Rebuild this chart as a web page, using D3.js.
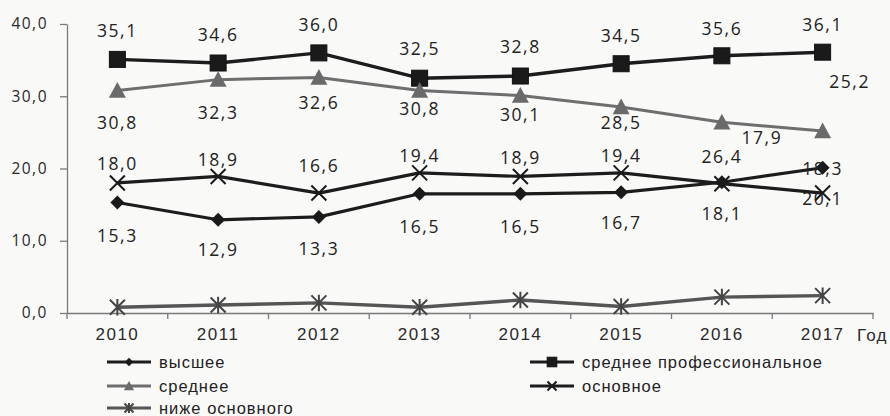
<!DOCTYPE html>
<html><head><meta charset="utf-8">
<script src="https://cdn.jsdelivr.net/npm/d3@7"></script>
<style>
html,body{margin:0;padding:0;background:#f9f9f8;}
svg{display:block;}
</style></head>
<body>
<svg id="chart" width="890" height="416"></svg>
<script>
// ---- data ----
const years = ["2010","2011","2012","2013","2014","2015","2016","2017"];
const yTicks = [0,10,20,30,40];
const axisTitle = "Год";

const vyssheeValues = [15.3,12.9,13.3,16.5,16.5,16.7,18.1,20.1];
const vyssheeLabels = ["15,3","12,9","13,3","16,5","16,5","16,7","18,1","18,3"];

const srProfValues = [35.1,34.6,36.0,32.5,32.8,34.5,35.6,36.1];
const srProfLabels = ["35,1","34,6","36,0","32,5","32,8","34,5","35,6","36,1"];

const sredneeValues = [30.8,32.3,32.6,30.8,30.1,28.5,26.4,25.2];
const sredneeLabels = ["30,8","32,3","32,6","30,8","30,1","28,5","17,9","25,2"];

const osnovnoeValues = [18.0,18.9,16.6,19.4,18.9,19.4,17.9,16.6];
const osnovnoeLabels = ["18,0","18,9","16,6","19,4","18,9","19,4","26,4","20,1"];

const nizheValues = [0.8,1.1,1.4,0.8,1.8,0.9,2.2,2.4];

// label placement offsets (layout only)
const vyssheeOff = [[0,33],[0,29],[0,31],[0,32],[0,32],[0,30],[0,31],[0,0]];
const srProfOff  = [[0,-29],[0,-29],[0,-29],[0,-30],[0,-30],[0,-29],[0,-28],[0,-28]];
const sredneeOff = [[0,32],[0,32],[0,25],[0,18],[0,18],[0,15],[40,15],[27,-50]];
const osnovnoeOff= [[0,-20],[0,-17],[0,-28],[0,-18],[0,-19],[0,-18],[0,-28],[0,5]];

const series = [
  {name:"высшее", values:vyssheeValues, labels:vyssheeLabels, off:vyssheeOff, color:"#1c1c1c", marker:"diamond", width:3.2},
  {name:"среднее профессиональное", values:srProfValues, labels:srProfLabels, off:srProfOff, color:"#1c1c1c", marker:"square", width:3.4},
  {name:"среднее", values:sredneeValues, labels:sredneeLabels, off:sredneeOff, color:"#6e6e6e", marker:"triangle", width:3},
  {name:"основное", values:osnovnoeValues, labels:osnovnoeLabels, off:osnovnoeOff, color:"#1c1c1c", marker:"times", width:3.2},
  {name:"ниже основного", values:nizheValues, labels:null, off:null, color:"#555555", marker:"asterisk", width:3.4}
];

// ---- layout ----
const svg = d3.select("#chart");
const mLeft = 67, mRight = 873, mTop = 24, mBottom = 313;
const x = d3.scaleBand().domain(years).range([mLeft,mRight]).padding(0);
const y = d3.scaleLinear().domain([0,40]).range([mBottom,mTop]);
const cx = d => x(d) + x.bandwidth()/2;
const fmt = v => d3.format(".1f")(v).replace(".",",");

// axes
const yAxis = svg.append("g").attr("transform",`translate(${mLeft},0)`)
  .call(d3.axisLeft(y).tickValues(yTicks).tickFormat(fmt).tickSize(7).tickSizeOuter(0).tickPadding(12));
yAxis.select(".domain").attr("stroke","#7a7a7a").attr("stroke-width",1.3);
yAxis.selectAll(".tick line").attr("stroke","#7a7a7a").attr("stroke-width",1.3);
yAxis.selectAll(".tick text").attr("font-family","'Open Sans'").attr("font-size",15.5)
  .attr("letter-spacing","1.5px").attr("fill","#2a2a2a");

const xAxis = svg.append("g").attr("transform",`translate(0,${mBottom})`)
  .call(d3.axisBottom(x).tickSize(0).tickSizeOuter(0).tickPadding(15));
xAxis.select(".domain").attr("stroke","#7a7a7a").attr("stroke-width",1.3);
xAxis.selectAll(".tick text").attr("font-family","'Liberation Sans'").attr("font-size",17)
  .attr("letter-spacing","1.5px").attr("fill","#2a2a2a");
// boundary tick marks
const bounds = years.map(d => x(d)).concat([x(years[years.length-1]) + x.bandwidth()]);
svg.append("g").selectAll("line").data(bounds).join("line")
  .attr("x1",d=>d).attr("x2",d=>d).attr("y1",mBottom).attr("y2",mBottom+6)
  .attr("stroke","#7a7a7a").attr("stroke-width",1.3);
svg.append("text").attr("x", mRight - 16).attr("y", mBottom + 28)
  .attr("font-family","'Liberation Sans'").attr("font-size",17).attr("letter-spacing","1.2px")
  .attr("fill","#2a2a2a").text(axisTitle);

// marker drawing
function drawMarker(g, type, color, px, py, scale) {
  const s = scale || 1;
  if (type === "square") {
    const h = 8*s;
    g.append("rect").attr("x",px-h).attr("y",py-h).attr("width",2*h).attr("height",2*h)
      .attr("fill","#1a1a1a").attr("stroke","#111").attr("stroke-width",1);
  } else if (type === "triangle") {
    const h = 8.5*s;
    g.append("path").attr("d",`M${px},${py-h}L${px+h},${py+h*0.85}L${px-h},${py+h*0.85}Z`)
      .attr("fill","#6a6a6a");
  } else if (type === "diamond") {
    const h = 7*s;
    g.append("path").attr("d",`M${px},${py-h}L${px+h},${py}L${px},${py+h}L${px-h},${py}Z`)
      .attr("fill","#1a1a1a");
  } else if (type === "times") {
    const h = 7.5*s;
    g.append("path").attr("d",`M${px-h},${py-h}L${px+h},${py+h}M${px+h},${py-h}L${px-h},${py+h}`)
      .attr("stroke","#1a1a1a").attr("stroke-width",2);
  } else if (type === "asterisk") {
    const h = 7.5*s;
    g.append("path").attr("d",`M${px-h},${py-h}L${px+h},${py+h}M${px+h},${py-h}L${px-h},${py+h}M${px},${py-h*1.1}L${px},${py+h*1.1}`)
      .attr("stroke","#444").attr("stroke-width",2);
  }
}

// lines + markers
const line = d3.line().x((d,i)=>cx(years[i])).y(d=>y(d));
const plot = svg.append("g");
series.forEach(s => {
  plot.append("path").attr("d", line(s.values)).attr("fill","none")
    .attr("stroke", s.color).attr("stroke-width", s.width).attr("stroke-linejoin","round");
});
series.forEach(s => {
  const g = plot.append("g");
  s.values.forEach((v,i) => drawMarker(g, s.marker, s.color, cx(years[i]), y(v)));
});

// data labels
const lab = svg.append("g");
series.forEach(s => {
  if (!s.labels) return;
  s.values.forEach((v,i) => {
    lab.append("text")
      .attr("x", cx(years[i]) + s.off[i][0])
      .attr("y", y(v) + s.off[i][1])
      .attr("text-anchor","middle").attr("dominant-baseline","central")
      .attr("font-family","'Open Sans'").attr("font-size",17.5).attr("letter-spacing","1.6px")
      .attr("fill","#222").text(s.labels[i]);
  });
});

// legend
const legendItems = [
  {s:series[0], lx:107, ly:362},
  {s:series[2], lx:107, ly:386},
  {s:series[4], lx:107, ly:408},
  {s:series[1], lx:530, ly:362},
  {s:series[3], lx:530, ly:386}
];
const lg = svg.append("g");
legendItems.forEach(it => {
  lg.append("line").attr("x1",it.lx).attr("x2",it.lx+44).attr("y1",it.ly).attr("y2",it.ly)
    .attr("stroke",it.s.color).attr("stroke-width",3);
  drawMarker(lg, it.s.marker, it.s.color, it.lx+22, it.ly, 0.6);
  lg.append("text").attr("x",it.lx+52).attr("y",it.ly).attr("dominant-baseline","central")
    .attr("font-family","'Liberation Sans'").attr("font-size",16.5).attr("letter-spacing","1px")
    .attr("fill","#222").text(it.s.name);
});
</script>
</body></html>
